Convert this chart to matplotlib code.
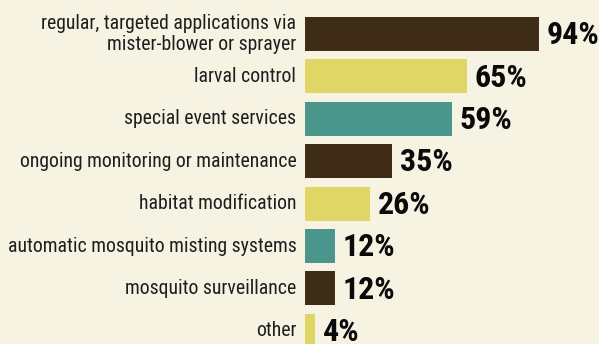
import os
import matplotlib
matplotlib.use("Agg")
import matplotlib.pyplot as plt
from matplotlib import font_manager as fm

labels = [
    "regular, targeted applications via\nmister-blower or sprayer",
    "larval control",
    "special event services",
    "ongoing monitoring or maintenance",
    "habitat modification",
    "automatic mosquito misting systems",
    "mosquito surveillance",
    "other",
]
values = [94, 65, 59, 35, 26, 12, 12, 4]

brown = "#3e2c16"
yellow = "#dfd665"
teal = "#4a958c"
colors = [brown, yellow, teal, brown, yellow, teal, brown, yellow]
bg = "#f7f3e3"


# look for a narrow font file, fall back to a family name
def pick(files, fallback):
    have = {os.path.basename(f.fname): f.fname for f in fm.fontManager.ttflist}
    for name in files:
        if name in have:
            return fm.FontProperties(fname=have[name])
    return fm.FontProperties(**fallback)


label_fp = pick(["RobotoCondensed-Regular.ttf", "LiberationSansNarrow-Regular.ttf",
                 "DejaVuSansCondensed.ttf"], {"family": "Liberation Sans"})
value_fp = pick(["RobotoCondensed-Black.ttf", "RobotoCondensed-ExtraBold.ttf",
                 "RobotoCondensed-Bold.ttf", "LiberationSansNarrow-Bold.ttf",
                 "DejaVuSansCondensed-Bold.ttf"], {"family": "Liberation Sans", "weight": "bold"})

fig = plt.figure(figsize=(5.99, 3.44), dpi=100, facecolor=bg)
ax = fig.add_axes([305 / 599, 0, 294 / 599, 1])
ax.set_facecolor(bg)

y = list(range(len(values)))
ax.barh(y, values, height=0.8, color=colors)

for yi, v in zip(y, values):
    ax.text(v + 3.2, yi + 0.03, f"{v}%", va="center", ha="left", fontproperties=value_fp,
            fontsize=23, color="#0a0a0a")

for yi, lab in zip(y, labels):
    ax.text(-3.5, yi, lab, va="center", ha="right", fontproperties=label_fp,
            fontsize=14.2, color="#1e1e1e", linespacing=1.15)

ax.set_xlim(0, 118.1)
ax.set_ylim(7.31, -0.80)
ax.axis("off")

fig.savefig("out.png", dpi=100, facecolor=bg)
